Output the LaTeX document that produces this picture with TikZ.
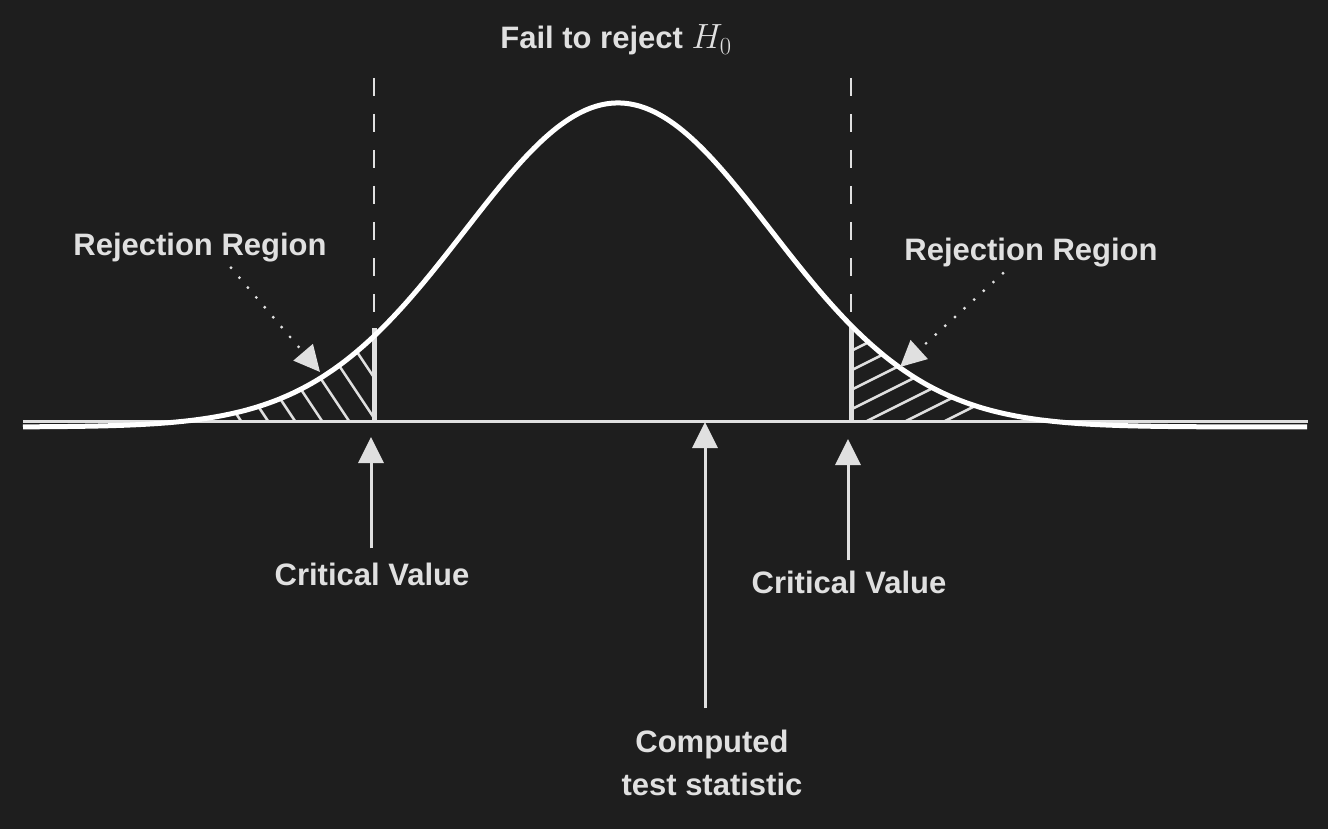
\RequirePackage{fix-cm}
\documentclass[tikz,border=0pt]{standalone}
\usepackage[no-math]{fontspec}
\setmainfont{Liberation Sans}
\usetikzlibrary{arrows.meta}
\definecolor{bg}{HTML}{1E1E1E}
\definecolor{fg}{HTML}{E0E0E0}
\begin{document}
\begin{tikzpicture}[x=1pt,y=-1pt,
  lbl/.style={text=fg, font=\bfseries\fontsize{31}{43}\selectfont, align=center, inner sep=0pt, anchor=base},
  arr/.style={draw=fg, line width=3pt, -{Triangle[length=26pt,width=25pt,fill=fg]}},
  dotarr/.style={draw=fg, line width=3.2pt, line cap=round, dash pattern=on 0pt off 13pt, -{Triangle[length=26pt,width=25pt,fill=fg]}},
  hatch/.style={draw=fg, line width=2.5pt},
  crit/.style={draw=fg, line width=5pt},
  guide/.style={draw=fg, line width=2.5pt, dash pattern=on 18pt off 18pt},
  curve/.style={draw=white, line width=5pt}
]
\fill[bg] (0,0) rectangle (1328,829);
\useasboundingbox (0,0) rectangle (1328,829);
\def\gauss{427-324*exp(-0.5*((\x-618)/153)*((\x-618)/153))}

% hatching
\begin{scope}
  \clip plot[domain=23:374, samples=120, smooth] (\x,{\gauss}) -- (374,421) -- (23,421) -- cycle;
  \foreach \a in {241,268,295,322,349,376,403}
    \draw[hatch] (\a,421) -- (\a-100,271);
\end{scope}
\begin{scope}
  \clip plot[domain=851:1307, samples=120, smooth] (\x,{\gauss}) -- (1307,421) -- (851,421) -- cycle;
  \foreach \a in {711,750,789,828,867,906,945}
    \draw[hatch] (\a,421) -- (\a+250,296);
\end{scope}

% axis
\draw[draw=fg, line width=3pt] (23,421) -- (1308,421);
% critical lines
\draw[crit] (374,328) -- (374,421);
\draw[crit] (851,326) -- (851,421);
% dashed guides
\draw[guide] (374,78) -- (374,312);
\draw[guide] (851,78) -- (851,312);
% curve
\draw[curve] plot[domain=23:1307, samples=241, smooth] (\x,{\gauss});

% labels
\node[lbl] (fail) at (616,49) {Fail to reject {\fontsize{35}{43}\selectfont$H_0$}};
\node[lbl] (rrL) at (200,255) {Rejection Region};
\node[lbl] (rrR) at (1031,261) {Rejection Region};
\node[lbl] (cvL) at (372,585) {Critical Value};
\node[lbl] (cvR) at (849,593) {Critical Value};
\node[lbl] (cts) at (712,795) {Computed\\test statistic};

% arrow tips
\coordinate (tipL) at (371,437);
\coordinate (tipR) at (848,439);
\coordinate (tipC) at (705,422);
\coordinate (hL) at (320,372);
\coordinate (hR) at (900,367);

\draw[arr, shorten <=14pt] (cvL.north -| tipL) -- (tipL);
\draw[arr, shorten <=10pt] (cvR.north -| tipR) -- (tipR);
\draw[arr, shorten <=21pt] (cts.north -| tipC) -- (tipC);
\draw[dotarr] ([xshift=31pt,yshift=-6pt]rrL.south) -- (hL);
\draw[dotarr] ([xshift=-28pt,yshift=-5.5pt]rrR.south) -- (hR);
\end{tikzpicture}
\end{document}
